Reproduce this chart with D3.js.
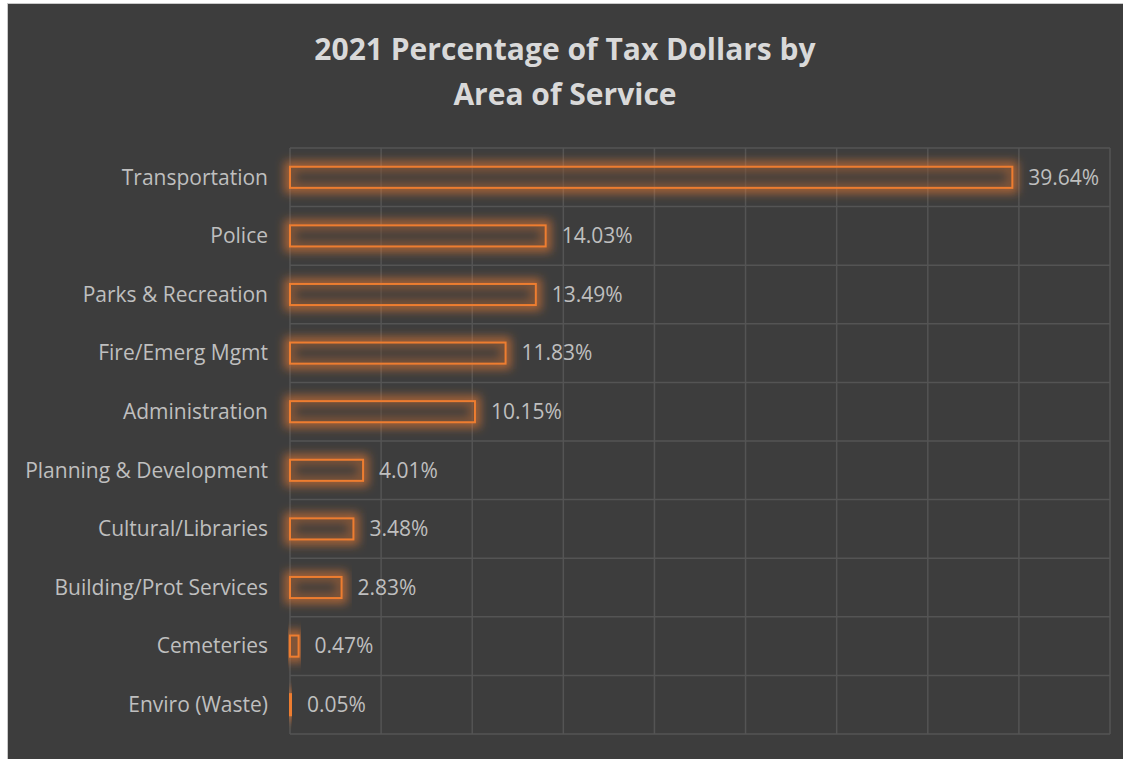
<!DOCTYPE html>
<html>
<head>
<meta charset="utf-8">
<script src="https://cdn.jsdelivr.net/npm/d3@7"></script>
<style>
  html, body { margin: 0; padding: 0; background: #ffffff; }
  svg { display: block; }
</style>
</head>
<body>
<svg id="chart" width="1123" height="759"></svg>
<script>
// Share of 2021 tax dollars by area of service
const categories = [
  "Transportation", "Police", "Parks & Recreation", "Fire/Emerg Mgmt",
  "Administration", "Planning & Development", "Cultural/Libraries",
  "Building/Prot Services", "Cemeteries", "Enviro (Waste)"
];
const shares = [0.3964, 0.1403, 0.1349, 0.1183, 0.1015, 0.0401, 0.0348, 0.0283, 0.0047, 0.0005];
const tickValues = [0, 0.05, 0.10, 0.15, 0.20, 0.25, 0.30, 0.35, 0.40, 0.45];
const titleLines = ["2021 Percentage of Tax Dollars by", "Area of Service"];

const svg = d3.select("#chart");
const W = 1123, H = 759;
const font = "'Open Sans', sans-serif";
const orange = "#ee7d30";

// dark chart panel with a thin light frame
svg.append("rect")
  .attr("x", 7.5).attr("y", 3.5)
  .attr("width", W).attr("height", H)
  .attr("fill", "#3d3d3d")
  .attr("stroke", "#c9c9c9").attr("stroke-width", 1);

const plot = { left: 290, right: 1110, top: 148, bottom: 734 };

const x = d3.scaleLinear().domain([0, 0.45]).range([plot.left, plot.right]);
const y = d3.scaleBand().domain(categories)
  .range([plot.top, plot.bottom])
  .paddingInner(0.64).paddingOuter(0.32);

// glow filter for the bar outlines
const defs = svg.append("defs");
const glow = defs.append("filter").attr("id", "glow")
  .attr("x", "-20%").attr("y", "-150%").attr("width", "140%").attr("height", "400%");
glow.append("feGaussianBlur").attr("stdDeviation", 5);

// gridlines
const grid = svg.append("g");
grid.selectAll("line.v").data(tickValues).join("line")
  .attr("x1", d => x(d)).attr("x2", d => x(d))
  .attr("y1", plot.top).attr("y2", plot.bottom)
  .attr("stroke", "#545454").attr("stroke-width", 1.5);
const rowEdges = categories.map(c => y(c) - (y.step() - y.bandwidth()) / 2);
rowEdges.push(plot.bottom);
grid.selectAll("line.h").data(rowEdges).join("line")
  .attr("x1", plot.left).attr("x2", plot.right)
  .attr("y1", d => d).attr("y2", d => d)
  .attr("stroke", "#545454").attr("stroke-width", 1.5);

// bars: blurred orange halo under an outlined bar
const bars = svg.append("g");
bars.selectAll("rect.halo").data(categories).join("rect")
  .attr("x", x(0))
  .attr("y", d => y(d))
  .attr("width", (d, i) => Math.max(1, x(shares[i]) - x(0)))
  .attr("height", y.bandwidth())
  .attr("fill", "none")
  .attr("stroke", orange).attr("stroke-width", 11)
  .attr("stroke-opacity", 0.6)
  .attr("filter", "url(#glow)");
bars.selectAll("rect.bar").data(categories).join("rect")
  .attr("x", x(0))
  .attr("y", d => y(d))
  .attr("width", (d, i) => Math.max(1, x(shares[i]) - x(0)))
  .attr("height", y.bandwidth())
  .attr("fill", "#3d3d3d").attr("fill-opacity", 0.35)
  .attr("stroke", orange).attr("stroke-width", 2);

// category labels
svg.append("g").selectAll("text").data(categories).join("text")
  .attr("x", plot.left - 22)
  .attr("y", d => y(d) + y.bandwidth() / 2)
  .attr("dy", "0.35em")
  .attr("text-anchor", "end")
  .attr("font-family", font).attr("font-size", 21)
  .attr("fill", "#bfbfbf")
  .text(d => d);

// value labels
svg.append("g").selectAll("text").data(categories).join("text")
  .attr("x", (d, i) => x(shares[i]) + 16)
  .attr("y", d => y(d) + y.bandwidth() / 2)
  .attr("dy", "0.35em")
  .attr("font-family", font).attr("font-size", 21)
  .attr("fill", "#bfbfbf")
  .text((d, i) => (shares[i] * 100).toFixed(2) + "%");

// title
svg.append("g").selectAll("text").data(titleLines).join("text")
  .attr("x", 565)
  .attr("y", (d, i) => 60 + i * 45)
  .attr("text-anchor", "middle")
  .attr("font-family", font).attr("font-weight", "bold").attr("font-size", 30)
  .attr("fill", "#d9d9d9")
  .text(d => d);
</script>
</body>
</html>
